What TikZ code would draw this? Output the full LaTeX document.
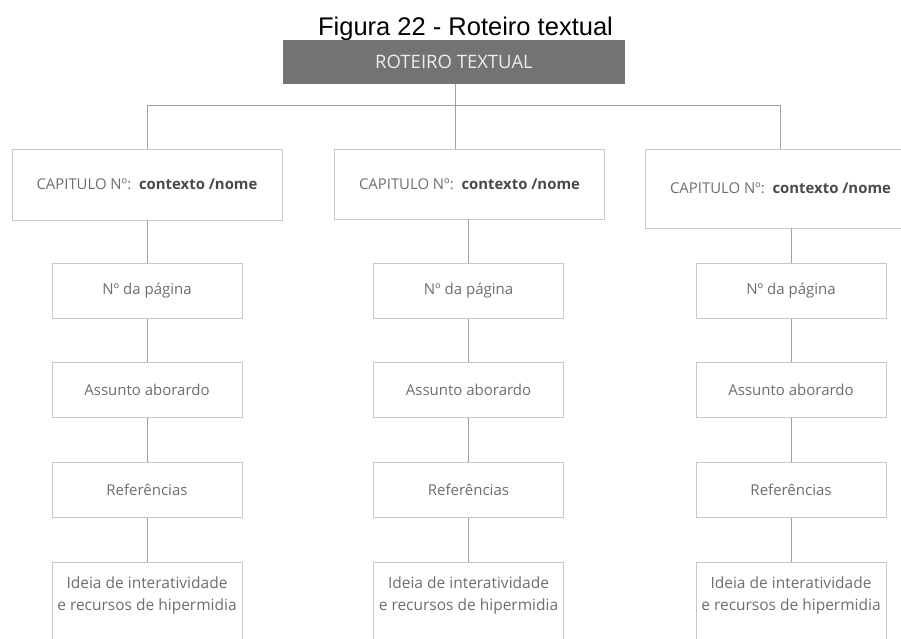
\documentclass[tikz,border=0pt]{standalone}
\usepackage{fontspec}
\setmainfont{Open Sans}
\newfontfamily\titlefont{Liberation Sans}
\definecolor{boxgray}{HTML}{C8C8C8}
\definecolor{linegray}{HTML}{A0A0A0}
\definecolor{txtgray}{HTML}{6E6E6E}
\definecolor{boldgray}{HTML}{4A4A4A}
\definecolor{topgray}{HTML}{737373}
\definecolor{toptext}{HTML}{EDEDED}
\begin{document}
\begin{tikzpicture}[x=1pt,y=-1pt,
  capbox/.style={draw=boxgray, line width=0.9pt, fill=white, inner sep=0pt,
    minimum width=270, font=\fontsize{14.9}{18}\selectfont, text=txtgray},
  subbox/.style={draw=boxgray, line width=0.9pt, fill=white, inner sep=0pt,
    minimum width=190, minimum height=55, font=\fontsize{15}{18}\selectfont, text=txtgray},
  ideabox/.style={draw=boxgray, line width=0.9pt, fill=white, inner sep=0pt,
    minimum width=190, minimum height=120, anchor=north},
  ideatext/.style={font=\fontsize{15.5}{22}\selectfont, text=txtgray, align=center, inner sep=0pt},
  conn/.style={draw=linegray, line width=0.9pt}]
\useasboundingbox (0,0) rectangle (901,638);
\fill[white] (0,0) rectangle (901,638);
\clip (0,0) rectangle (901,638);

\newcommand{\captxt}{CAPITULO Nº:\ \ {\bfseries\color{boldgray}contexto /nome}}

% title and top box
\node[font=\titlefont\fontsize{25.5}{30}\selectfont, anchor=base, inner sep=0pt] (title) at (465.5,35) {Figura 22 - Roteiro textual};
\node[fill=topgray, minimum width=342, minimum height=44, inner sep=0pt, text=toptext,
  font=\fontsize{18.5}{22}\selectfont] (top) at (454,62) {ROTEIRO TEXTUAL};

% chapter boxes
\node[capbox, minimum height=71] (cap1) at (147,184.5) {\captxt};
\node[capbox, minimum height=70] (cap2) at (469.5,184) {\captxt};
\node[capbox, minimum height=79] (cap3) at (780.5,188.5) {\captxt};

% junctions
\coordinate (h1) at (147,105);
\coordinate (h2) at (455,105);
\coordinate (h3) at (780,105);

% column 1
\node[subbox] (pag1) at (147,291) {Nº da página};
\node[subbox] (ass1) at (147,390) {Assunto aborardo};
\node[subbox] (ref1) at (147,490) {Referências};
\node[ideabox] (ide1) at (147,562) {};
\node[ideatext] (idt1) at (147,595.5) {Ideia de interatividade\\e recursos de hipermidia};

% column 2
\node[subbox] (pag2) at (468.5,291) {Nº da página};
\node[subbox] (ass2) at (468.5,390) {Assunto aborardo};
\node[subbox] (ref2) at (468.5,490) {Referências};
\node[ideabox] (ide2) at (468.5,562) {};
\node[ideatext] (idt2) at (468.5,595.5) {Ideia de interatividade\\e recursos de hipermidia};

% column 3
\node[subbox] (pag3) at (791,291) {Nº da página};
\node[subbox] (ass3) at (791,390) {Assunto aborardo};
\node[subbox] (ref3) at (791,490) {Referências};
\node[ideabox] (ide3) at (791,562) {};
\node[ideatext] (idt3) at (791,595.5) {Ideia de interatividade\\e recursos de hipermidia};

% connectors
\draw[conn] (top.south -| h2) -- (h2);
\draw[conn] (h1) -- (h3);
\draw[conn] (h1) -- (h1 |- cap1.north);
\draw[conn] (h2) -- (h2 |- cap2.north);
\draw[conn] (h3) -- (h3 |- cap3.north);

\draw[conn] (cap1.south) -- (pag1.north);
\draw[conn] (pag1.south) -- (ass1.north);
\draw[conn] (ass1.south) -- (ref1.north);
\draw[conn] (ref1.south) -- (ide1.north);

\draw[conn] (pag2.north |- cap2.south) -- (pag2.north);
\draw[conn] (pag2.south) -- (ass2.north);
\draw[conn] (ass2.south) -- (ref2.north);
\draw[conn] (ref2.south) -- (ide2.north);

\draw[conn] (pag3.north |- cap3.south) -- (pag3.north);
\draw[conn] (pag3.south) -- (ass3.north);
\draw[conn] (ass3.south) -- (ref3.north);
\draw[conn] (ref3.south) -- (ide3.north);
\end{tikzpicture}
\end{document}
